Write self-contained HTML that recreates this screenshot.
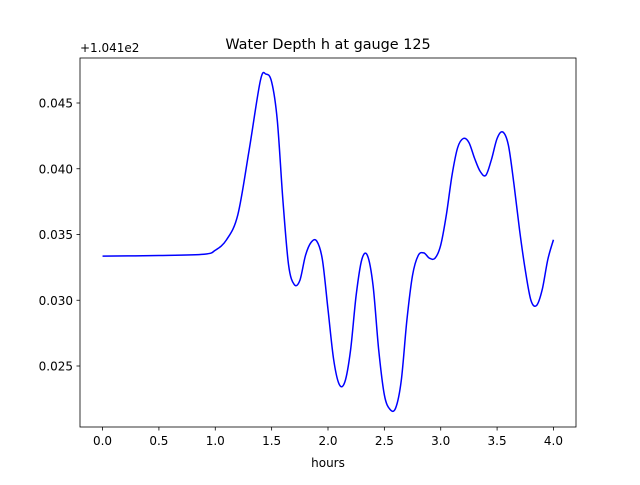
<!DOCTYPE html>
<html><head><meta charset="utf-8"><style>
body{margin:0;background:#fff;}
text{font-family:"DejaVu Sans","Liberation Sans",sans-serif;fill:#000;}
</style></head><body>
<svg id="chart" width="640" height="480" viewBox="0 0 640 480" xmlns="http://www.w3.org/2000/svg">
<rect width="640" height="480" fill="#fff"/>
<text x="328" y="49" font-size="14.4" text-anchor="middle">Water Depth h at gauge 125</text>
<text x="80" y="52" font-size="12">+1.041e2</text>
<text x="328" y="467" font-size="12" text-anchor="middle">hours</text>
<g id="ticks"></g>
<path id="series" fill="none" stroke="#0000ff" stroke-width="1.5" stroke-linejoin="round"/>
<rect x="80" y="58" width="496" height="369" fill="none" stroke="#000" stroke-width="0.8"/>
</svg>
<script>
const xs=[0,0.5,0.9,1.0,1.1,1.2,1.3,1.4,1.45,1.5,1.55,1.6,1.65,1.7,1.75,1.8,1.85,1.9,1.95,2.0,2.05,2.1,2.15,2.2,2.25,2.3,2.35,2.4,2.45,2.5,2.55,2.6,2.65,2.7,2.75,2.8,2.85,2.9,2.95,3.0,3.05,3.1,3.15,3.2,3.25,3.3,3.35,3.4,3.45,3.5,3.55,3.6,3.65,3.7,3.75,3.8,3.85,3.9,3.95,4.0];
const ys=[0.03336,0.0334,0.0335,0.0338,0.0346,0.0365,0.0414,0.0467,0.0472,0.0466,0.0437,0.0376,0.0327,0.0312,0.0315,0.0334,0.0344,0.0345,0.0331,0.0293,0.0255,0.0236,0.0238,0.0262,0.0304,0.0331,0.0334,0.0311,0.0262,0.0228,0.0217,0.0218,0.0239,0.0285,0.0319,0.0334,0.0336,0.0332,0.0332,0.0342,0.0365,0.0395,0.0416,0.0423,0.0420,0.0408,0.0398,0.0395,0.0407,0.0423,0.0428,0.0418,0.0388,0.0353,0.0323,0.0300,0.0296,0.0308,0.0331,0.0346];
const xTicks=[0,0.5,1.0,1.5,2.0,2.5,3.0,3.5,4.0];
const xTickLabels=["0.0","0.5","1.0","1.5","2.0","2.5","3.0","3.5","4.0"];
const yTicks=[0.025,0.030,0.035,0.040,0.045];
const yTickLabels=["0.025","0.030","0.035","0.040","0.045"];
const X=v=>80+(v+0.2)/4.4*496;
const Y=v=>103+(0.045-v)*13150;
const NS="http://www.w3.org/2000/svg";
const g=document.getElementById('ticks');
function mk(t,a){const e=document.createElementNS(NS,t);for(const k in a)e.setAttribute(k,a[k]);return e;}
xTicks.forEach((t,i)=>{
 const l=mk('line',{x1:X(t),x2:X(t),y1:427,y2:430.5,stroke:'#000','stroke-width':0.8});
 
 
 g.appendChild(l);
 const tx=mk('text',{x:X(t),y:445,'font-size':12,'text-anchor':'middle'});
 tx.textContent=xTickLabels[i];
 
 
 g.appendChild(tx);
});
yTicks.forEach((t,i)=>{
 const l=mk('line',{x1:76.5,x2:80,y1:Y(t),y2:Y(t),stroke:'#000','stroke-width':0.8});
 
 
 g.appendChild(l);
 const tx=mk('text',{x:73,y:Y(t)+4.5,'font-size':12,'text-anchor':'end'});
 tx.textContent=yTickLabels[i];
 
 
 g.appendChild(tx);
});
// catmull-rom smooth path
const P=xs.map((x,i)=>[X(x),Y(ys[i])]);
let d='M'+P[0][0]+','+P[0][1];
for(let i=0;i<P.length-1;i++){
 const p0=P[Math.max(0,i-1)],p1=P[i],p2=P[i+1],p3=P[Math.min(P.length-1,i+2)];
 const c1=[p1[0]+(p2[0]-p0[0])/6,p1[1]+(p2[1]-p0[1])/6];
 const c2=[p2[0]-(p3[0]-p1[0])/6,p2[1]-(p3[1]-p1[1])/6];
 d+=' C'+c1.join(',')+' '+c2.join(',')+' '+p2.join(',');
}
document.getElementById('series').setAttribute('d',d);
</script>
</body></html>
